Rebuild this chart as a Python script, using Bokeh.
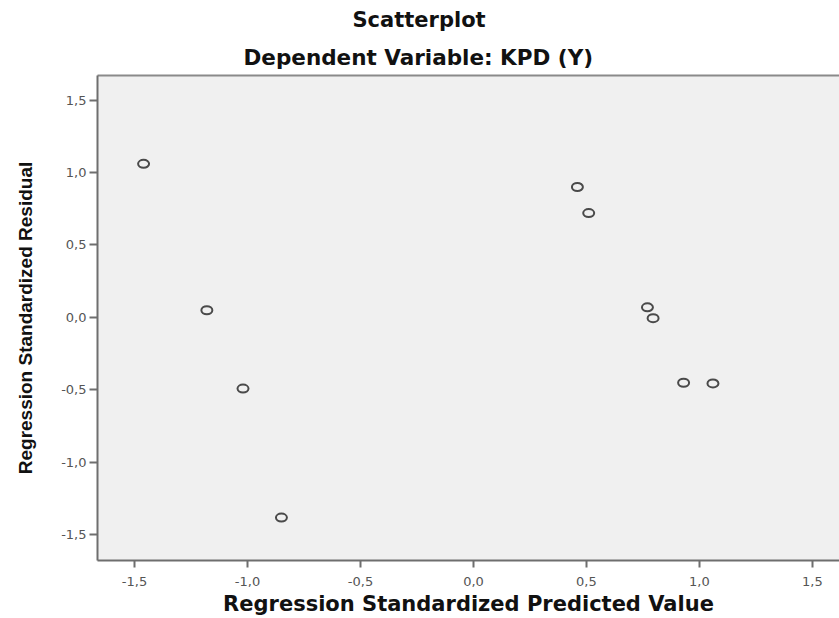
from bokeh.plotting import figure
from bokeh.models import LinearAxis, FixedTicker, Title, Range1d
from bokeh.embed import file_html
from bokeh.resources import INLINE

# Data
predicted = [-1.46, -1.18, -1.02, -0.85, 0.46, 0.51, 0.77, 0.795, 0.93, 1.06]
residual = [1.06, 0.05, -0.49, -1.38, 0.90, 0.72, 0.07, -0.005, -0.45, -0.455]

x_ticks = [-1.5, -1.0, -0.5, 0.0, 0.5, 1.0, 1.5]
x_tick_labels = ["-1,5", "-1,0", "-0,5", "0,0", "0,5", "1,0", "1,5"]
y_ticks = [-1.5, -1.0, -0.5, 0.0, 0.5, 1.0, 1.5]
y_tick_labels = ["-1,5", "-1,0", "-0,5", "0,0", "0,5", "1,0", "1,5"]

title_text = "Scatterplot"
subtitle_text = "Dependent Variable: KPD (Y)"
x_label = "Regression Standardized Predicted Value"
y_label = "Regression Standardized Residual"

p = figure(width=839, height=618, output_backend="svg", toolbar_location=None,
           x_range=Range1d(-1.664, 1.62), y_range=Range1d(-1.676, 1.669),
           min_border_left=97, min_border_right=0, min_border_top=0, min_border_bottom=0)

p.background_fill_color = "#f0f0f0"
p.border_fill_color = "white"
p.outline_line_color = None
p.xgrid.visible = False
p.ygrid.visible = False

axis_color = "#6e6e6e"
label_color = "#555555"
for ax, ticks, labels in ((p.xaxis[0], x_ticks, x_tick_labels), (p.yaxis[0], y_ticks, y_tick_labels)):
    ax.ticker = FixedTicker(ticks=ticks)
    ax.major_label_overrides = {t: l for t, l in zip(ticks, labels)}
    ax.axis_line_color = axis_color
    ax.axis_line_width = 2
    ax.major_tick_line_color = axis_color
    ax.major_tick_line_width = 2
    ax.major_tick_in = 0
    ax.minor_tick_line_color = None
    ax.major_label_text_font = "DejaVu Sans"
    ax.major_label_text_font_size = "13px"
    ax.major_label_text_color = label_color
    ax.axis_label_text_color = "#111111"
    ax.axis_label_text_font_style = "bold"

p.xaxis.major_tick_out = 7
p.xaxis.major_label_standoff = 9
p.xaxis.axis_label = x_label
p.xaxis.axis_label_text_font = "DejaVu Sans"
p.xaxis.axis_label_text_font_size = "21px"
p.xaxis.axis_label_standoff = 3

p.yaxis.major_tick_out = 8
p.yaxis.major_label_standoff = 3
p.yaxis.axis_label = y_label
p.yaxis.axis_label_text_font = "Liberation Sans"
p.yaxis.axis_label_text_font_size = "19px"
p.yaxis.axis_label_standoff = 22

top_axis = LinearAxis(ticker=FixedTicker(ticks=[]), major_label_text_font_size="0px",
                      axis_line_color="#8a8a8a", axis_line_width=2,
                      major_tick_line_color=None, minor_tick_line_color=None)
p.add_layout(top_axis, "above")

p.add_layout(Title(text=subtitle_text, align="left", offset=146, standoff=12, text_font="DejaVu Sans",
                   text_font_size="21.5px", text_font_style="bold", text_color="#111111"), "above")
p.add_layout(Title(text=title_text, align="left", offset=255, standoff=10, text_font="DejaVu Sans",
                   text_font_size="21px", text_font_style="bold", text_color="#111111"), "above")

p.ellipse(x=predicted, y=residual, width=11, height=8, width_units="screen", height_units="screen",
          fill_color=None, line_color="#4a4a4a", line_width=2)

open("out.html", "w").write(file_html(p, INLINE))
